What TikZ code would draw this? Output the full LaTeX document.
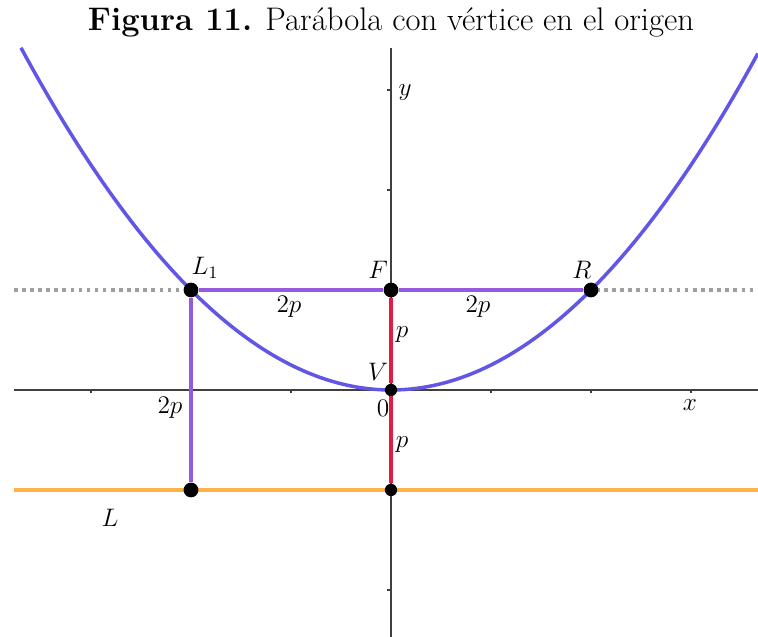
\documentclass[tikz,border=0pt]{standalone}
\usepackage{tikz}
\usetikzlibrary{arrows.meta,positioning,calc}
\definecolor{parab}{RGB}{98,86,230}
\definecolor{lat}{RGB}{150,90,225}
\definecolor{foc}{RGB}{222,30,70}
\definecolor{dirc}{RGB}{255,176,70}

\begin{document}
\begin{tikzpicture}[x=2cm, y=2cm, font=\fontsize{14}{16}\selectfont,
  axis/.style={draw=black!75, line width=0.9pt},
  tick/.style={draw=black!75, line width=0.7pt},
  big/.style={circle, fill=black, inner sep=0pt, minimum size=8.4pt},
  small/.style={circle, fill=black, inner sep=0pt, minimum size=7pt},
  lbl/.style={inner sep=1pt}]
  \useasboundingbox (-3.91,-2.47) rectangle (3.67,3.90);
  % title
  \node[font=\fontsize{18.6}{20}\selectfont] (title) at (0.0,3.68) {\textbf{Figura 11.} Parábola con vértice en el origen};
  % axes
  \coordinate (xl) at (-3.77,0); \coordinate (xr) at (3.67,0);
  \coordinate (yt) at (0,3.42); \coordinate (yb) at (0,-2.47);
  \draw[axis] (xl) -- (xr);
  \draw[axis] (yb) -- (yt);
  \foreach \t in {-3,-2,-1,1,2,3} \draw[tick] (\t,0) -- (\t,-0.035);
  \foreach \t in {-2,-1,1,2,3} \draw[tick] (0,\t) -- (-0.04,\t);
  % latus rectum line and directrix
  \coordinate (dl) at (-3.77,1); \coordinate (dr) at (3.67,1);
  \coordinate (Ll) at (-3.77,-1); \coordinate (Lr) at (3.67,-1);
  \draw[gray!75, line width=2pt, dash pattern=on 2pt off 2.6pt] (dl) -- (dr);
  \draw[dirc, line width=2pt] (Ll) -- (Lr);
  % parabola
  \draw[parab, line width=2pt, domain=-3.70:3.67, samples=120] plot (\x,{\x*\x/4});
  % points
  \node[big] (L1) at (-2,1) {};
  \node[big] (F) at (0,1) {};
  \node[big] (R) at (2,1) {};
  \node[small] (V) at (0,0) {};
  \node[big] (D1) at (-2,-1) {};
  \node[small] (D0) at (0,-1) {};
  % segments
  \draw[lat, line width=2pt] (L1) -- (F) -- (R);
  \draw[lat, line width=2pt] (L1) -- (D1);
  \draw[foc, line width=1.8pt] (F) -- (V) -- (D0);
  % labels
  \node[lbl] (tL1) at (-1.86,1.22) {$L_1$};
  \node[lbl] (tF) at (-0.13,1.20) {$F$};
  \node[lbl] (tR) at (1.91,1.20) {$R$};
  \node[lbl] (t2a) at (-1.02,0.83) {$2p$};
  \node[lbl] (t2b) at (0.87,0.83) {$2p$};
  \node[lbl] (tpa) at (0.11,0.55) {$p$};
  \node[lbl] (tV) at (-0.13,0.18) {$V$};
  \node[lbl] (t0) at (-0.08,-0.18) {$0$};
  \node[lbl] (t2c) at (-2.21,-0.18) {$2p$};
  \node[lbl] (tx) at (2.99,-0.15) {$x$};
  \node[lbl] (ty) at (0.14,2.97) {$y$};
  \node[lbl] (tpb) at (0.11,-0.55) {$p$};
  \node[lbl] (tL) at (-2.81,-1.28) {$L$};
\end{tikzpicture}
\end{document}
